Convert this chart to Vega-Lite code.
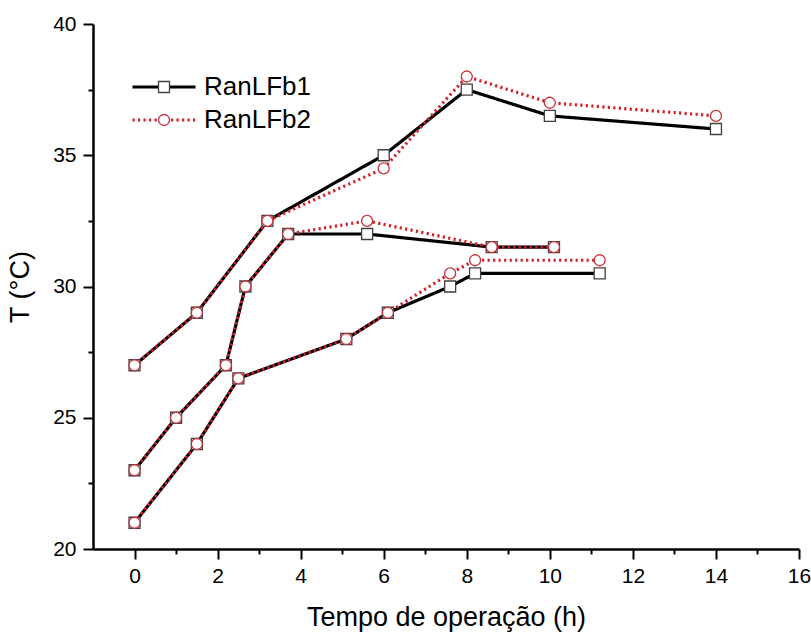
{
  "$schema": "https://vega.github.io/schema/vega-lite/v6.json",
  "width": 706,
  "height": 525,
  "autosize": {"type": "none"},
  "padding": {"left": 93, "top": 24, "right": 12, "bottom": 83},
  "config": {
    "font": "Liberation Sans",
    "view": {"stroke": null},
    "axis": {
      "grid": false,
      "domainColor": "black",
      "domainWidth": 2.5,
      "tickColor": "black",
      "tickWidth": 2,
      "labelColor": "black",
      "titleColor": "black",
      "labelFont": "Liberation Sans",
      "titleFont": "Liberation Sans",
      "titleFontWeight": "normal"
    },
    "legend": {"labelFont": "Liberation Sans"}
  },
  "data": {
    "values": [
      {"series": "RanLFb1", "run": "A", "t": 0, "T": 27},
      {"series": "RanLFb1", "run": "A", "t": 1.5, "T": 29},
      {"series": "RanLFb1", "run": "A", "t": 3.2, "T": 32.5},
      {"series": "RanLFb1", "run": "A", "t": 6, "T": 35},
      {"series": "RanLFb1", "run": "A", "t": 8, "T": 37.5},
      {"series": "RanLFb1", "run": "A", "t": 10, "T": 36.5},
      {"series": "RanLFb1", "run": "A", "t": 14, "T": 36},
      {"series": "RanLFb1", "run": "B", "t": 0, "T": 23},
      {"series": "RanLFb1", "run": "B", "t": 1, "T": 25},
      {"series": "RanLFb1", "run": "B", "t": 2.2, "T": 27},
      {"series": "RanLFb1", "run": "B", "t": 2.67, "T": 30},
      {"series": "RanLFb1", "run": "B", "t": 3.7, "T": 32},
      {"series": "RanLFb1", "run": "B", "t": 5.6, "T": 32},
      {"series": "RanLFb1", "run": "B", "t": 8.6, "T": 31.5},
      {"series": "RanLFb1", "run": "B", "t": 10.1, "T": 31.5},
      {"series": "RanLFb1", "run": "C", "t": 0, "T": 21},
      {"series": "RanLFb1", "run": "C", "t": 1.5, "T": 24},
      {"series": "RanLFb1", "run": "C", "t": 2.5, "T": 26.5},
      {"series": "RanLFb1", "run": "C", "t": 5.1, "T": 28},
      {"series": "RanLFb1", "run": "C", "t": 6.1, "T": 29},
      {"series": "RanLFb1", "run": "C", "t": 7.6, "T": 30},
      {"series": "RanLFb1", "run": "C", "t": 8.2, "T": 30.5},
      {"series": "RanLFb1", "run": "C", "t": 11.2, "T": 30.5},
      {"series": "RanLFb2", "run": "A", "t": 0, "T": 27},
      {"series": "RanLFb2", "run": "A", "t": 1.5, "T": 29},
      {"series": "RanLFb2", "run": "A", "t": 3.2, "T": 32.5},
      {"series": "RanLFb2", "run": "A", "t": 6, "T": 34.5},
      {"series": "RanLFb2", "run": "A", "t": 8, "T": 38},
      {"series": "RanLFb2", "run": "A", "t": 10, "T": 37},
      {"series": "RanLFb2", "run": "A", "t": 14, "T": 36.5},
      {"series": "RanLFb2", "run": "B", "t": 0, "T": 23},
      {"series": "RanLFb2", "run": "B", "t": 1, "T": 25},
      {"series": "RanLFb2", "run": "B", "t": 2.2, "T": 27},
      {"series": "RanLFb2", "run": "B", "t": 2.67, "T": 30},
      {"series": "RanLFb2", "run": "B", "t": 3.7, "T": 32},
      {"series": "RanLFb2", "run": "B", "t": 5.6, "T": 32.5},
      {"series": "RanLFb2", "run": "B", "t": 8.6, "T": 31.5},
      {"series": "RanLFb2", "run": "B", "t": 10.1, "T": 31.5},
      {"series": "RanLFb2", "run": "C", "t": 0, "T": 21},
      {"series": "RanLFb2", "run": "C", "t": 1.5, "T": 24},
      {"series": "RanLFb2", "run": "C", "t": 2.5, "T": 26.5},
      {"series": "RanLFb2", "run": "C", "t": 5.1, "T": 28},
      {"series": "RanLFb2", "run": "C", "t": 6.1, "T": 29},
      {"series": "RanLFb2", "run": "C", "t": 7.6, "T": 30.5},
      {"series": "RanLFb2", "run": "C", "t": 8.2, "T": 31},
      {"series": "RanLFb2", "run": "C", "t": 11.2, "T": 31}
    ]
  },
  "resolve": {"axis": {"x": "independent", "y": "independent"}},
  "layer": [
    {
      "mark": {"type": "line", "strokeWidth": 3.2},
      "encoding": {
        "x": {"field": "t", "type": "quantitative",
          "scale": {"domain": [-1, 16], "nice": false, "zero": false},
          "axis": {"orient": "bottom", "values": [0, 2, 4, 6, 8, 10, 12, 14, 16], "tickSize": 10, "labelFontSize": 21, "labelPadding": 6, "labelFlush": false, "title": "Tempo de operação (h)", "titleFontSize": 27, "titlePadding": 18}},
        "y": {"field": "T", "type": "quantitative",
          "scale": {"domain": [20, 40], "nice": false, "zero": false},
          "axis": {"orient": "left", "values": [20, 25, 30, 35, 40], "tickSize": 10, "labelFontSize": 21, "labelPadding": 7, "labelFlush": false, "title": "T (°C)", "titleFontSize": 27, "titlePadding": 18}},
        "color": {"field": "series", "type": "nominal",
          "scale": {"domain": ["RanLFb1", "RanLFb2"], "range": ["#000000", "#d0202a"]},
          "legend": {"title": null, "orient": "none", "legendX": 58, "legendY": 50, "symbolType": "M-5.73,0H5.73", "symbolSize": 121, "symbolStrokeWidth": 3.2, "labelFontSize": 26, "labelOffset": 27, "labelColor": "black", "rowPadding": 7}},
        "strokeDash": {"field": "series", "type": "nominal",
          "scale": {"domain": ["RanLFb1", "RanLFb2"], "range": [[1, 0], [2.2, 3.3]]},
          "legend": {"title": null, "orient": "none", "legendX": 58, "legendY": 50, "symbolType": "M-5.73,0H5.73", "symbolSize": 121, "symbolStrokeWidth": 3.2, "labelFontSize": 26, "labelOffset": 27, "labelColor": "black", "rowPadding": 7}},
        "detail": {"field": "run", "type": "nominal"}
      }
    },
    {
      "mark": {"type": "point", "filled": true, "fill": "white", "size": 121, "strokeWidth": 1.3, "opacity": 1},
      "encoding": {
        "x": {"field": "t", "type": "quantitative", "axis": null},
        "y": {"field": "T", "type": "quantitative", "axis": null},
        "shape": {"field": "series", "type": "nominal",
          "scale": {"range": ["square", "circle"]},
          "legend": {"title": null, "orient": "none", "legendX": 58, "legendY": 50, "symbolSize": 121, "symbolFillColor": "white", "symbolStrokeWidth": 1.3, "labelFontSize": 26, "labelExpr": "''", "rowPadding": 7}},
        "stroke": {"field": "series", "type": "nominal",
          "scale": {"range": ["#404040", "#c8323a"]},
          "legend": {"title": null, "orient": "none", "legendX": 58, "legendY": 50, "symbolSize": 121, "symbolFillColor": "white", "symbolStrokeWidth": 1.3, "labelFontSize": 26, "labelExpr": "''", "rowPadding": 7}}
      }
    },
    {
      "mark": {"type": "point", "opacity": 0},
      "encoding": {
        "x": {"field": "t", "type": "quantitative",
          "axis": {"orient": "bottom", "values": [1, 3, 5, 7, 9, 11, 13, 15], "tickSize": 5, "labels": false, "domain": false, "title": null}},
        "y": {"field": "T", "type": "quantitative",
          "axis": {"orient": "left", "values": [22.5, 27.5, 32.5, 37.5], "tickSize": 5, "labels": false, "domain": false, "title": null}}
      }
    }
  ]
}
